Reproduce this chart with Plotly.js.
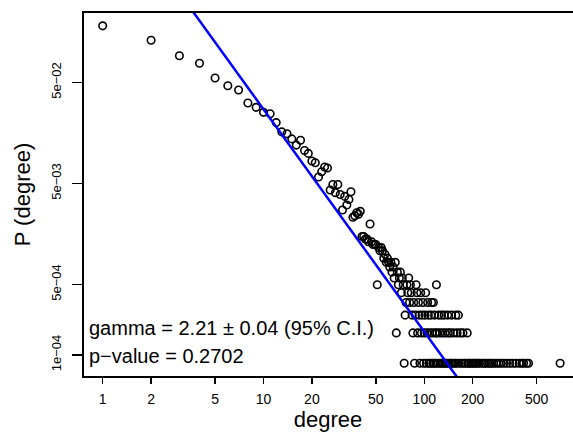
<!DOCTYPE html>
<html><head><meta charset="utf-8">
<script src="https://cdn.plot.ly/plotly-3.0.1.min.js"></script>
<style>html,body{margin:0;padding:0;background:#fff;overflow:hidden}</style>
</head><body><div id="chart" style="width:573px;height:432px"></div>
<script>
// degree values and number of nodes with that degree
const degrees = [1,2,3,4,5,6,7,8,9,10,11,12,13,14,15,16,17,18,19,
  20,21,22,23,24,25,26,27,28,29,30,31,32,33,34,35,36,37,38,39,40,
  41,42,43,44,45,46,47,48,49,50,51,52,53,54,55,56,57,58,59,60,
  61,62,63,64,65,66,67,68,69,70,71,72,73,74,75,76,77,78,79,80,
  81,82,83,84,85,86,87,88,89,90,91,92,93,94,95,96,97,98,99,100,
  101,102,103,104,105,106,107,108,109,110,111,112,113,114,115,116,117,118,119,120,
  122,123,125,126,128,129,130,132,133,135,136,138,140,141,143,145,147,148,150,
  152,155,157,158,160,163,165,168,170,174,176,180,185,187,190,195,200,205,210,215,
  220,228,235,240,248,255,262,270,280,290,300,312,325,340,355,370,390,405,415,433,445,700];
const counts = [2200,1584,1112,937,670,562,509,378,343,306,296,242,196,188,167,145,162,128,120,
  101,97,70,79,88,86,52,59,49,59,47,33,45,37,42,50,28,29,31,30,32,
  18,18,17,17,16,24,16,15,15,15,6,14,13,14,13,11,12,10,11,10,
  9,10,8,9,7,10,2,8,6,7,8,5,7,6,1,3,4,6,5,7,
  4,6,5,3,2,4,1,3,6,5,2,4,3,1,5,2,3,4,1,2,
  3,5,1,2,4,3,1,2,1,3,4,2,1,4,1,3,2,1,6,2,
  1,3,2,1,3,1,2,1,3,2,1,1,3,2,1,2,1,3,1,
  2,1,3,1,2,3,1,2,1,2,1,1,2,1,1,1,1,1,1,1,
  1,1,1,1,1,1,1,1,1,1,1,1,1,1,1,1,1,1,1,1,1,1];
const totalNodes = 12090;

// fitted power-law line (two points)
const fitX = [3, 200];
const fitY = [0.386, 0.0000369];

const xTickVals = [1,2,5,10,20,50,100,200,500];
const xTickText = ['1','2','5','10','20','50','100','200','500'];
const yTickVals = [0.05, 0.005, 0.0005, 0.0001];
const yTickText = ['5e\u221202','5e\u221203','5e\u221204','1e\u221204'];
const xTitle = 'degree';
const yTitle = 'P (degree)';
const gammaText = 'gamma = 2.21 \u00b1 0.04 (95% C.I.)';
const pText = 'p\u2212value = 0.2702';

const prob = counts.map(c => c / totalNodes);
const FONT = 'Liberation Sans, Arial, Helvetica, sans-serif';

const traces = [
  {x: degrees, y: prob, type: 'scatter', mode: 'markers', cliponaxis: true,
   marker: {symbol: 'circle-open', size: 7.5, color: '#000', line: {width: 1.6, color: '#000'}},
   hoverinfo: 'x+y'},
  {x: fitX, y: fitY, type: 'scatter', mode: 'lines',
   line: {color: '#0000ff', width: 2.5}, hoverinfo: 'skip'}
];

const layout = {
  width: 573, height: 432,
  margin: {l: 83, r: 0, t: 12, b: 55, pad: 0},
  paper_bgcolor: '#fff', plot_bgcolor: '#fff',
  showlegend: false,
  font: {family: FONT, color: '#000'},
  xaxis: {
    type: 'log', range: [-0.1225, 2.925],
    tickmode: 'array', tickvals: xTickVals, ticktext: xTickText,
    ticks: 'outside', ticklen: 6, tickwidth: 1.5, tickcolor: '#000',
    showgrid: false, zeroline: false, showline: false,
    tickfont: {family: FONT, size: 14, color: '#000'},
    ticklabelstandoff: 3,
    title: {text: xTitle, font: {family: FONT, size: 22, color: '#000'}, standoff: 4}
  },
  yaxis: {
    type: 'log', range: [-4.218, -0.603],
    tickmode: 'array', tickvals: yTickVals, ticktext: yTickText,
    ticks: 'outside', ticklen: 10, tickwidth: 1.5, tickcolor: '#000',
    tickangle: -90,
    showgrid: false, zeroline: false, showline: false,
    tickfont: {family: FONT, size: 13, color: '#000'},
    ticklabelstandoff: 6,
    title: {text: yTitle, font: {family: FONT, size: 22, color: '#000'}, standoff: 12}
  },
  shapes: [
    {type: 'rect', xref: 'paper', yref: 'paper', x0: 0, x1: 1.05, y0: 0, y1: 1,
     line: {color: '#000', width: 2}, fillcolor: 'rgba(0,0,0,0)', layer: 'above'}
  ],
  annotations: [
    {text: gammaText, xref: 'paper', yref: 'paper', x: 0.008, y: 0.134,
     xanchor: 'left', yanchor: 'middle', showarrow: false,
     font: {family: FONT, size: 20, color: '#000'}},
    {text: pText, xref: 'paper', yref: 'paper', x: 0.008, y: 0.0575,
     xanchor: 'left', yanchor: 'middle', showarrow: false,
     font: {family: FONT, size: 20, color: '#000'}}
  ]
};

Plotly.newPlot('chart', traces, layout, {displayModeBar: false, staticPlot: true});
</script>
</body></html>
